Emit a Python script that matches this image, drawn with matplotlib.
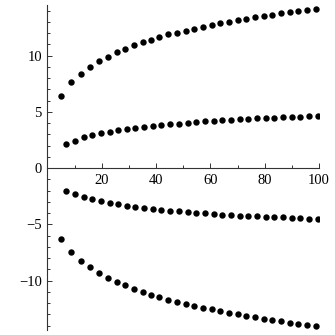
import numpy as np
import matplotlib
matplotlib.use("Agg")
import matplotlib.pyplot as plt
from matplotlib.ticker import MultipleLocator

# x positions of the dots (outer curves and inner curves)
x_outer = [5.12, 8.69, 12.26, 15.57, 18.89, 22.20, 25.52, 28.68, 31.88, 35.09,
           38.25, 41.27, 44.51, 47.72, 50.92, 54.09, 57.29, 60.49, 63.66, 66.86,
           70.07, 73.23, 76.44, 79.64, 82.81, 86.01, 89.21, 92.38, 95.58, 98.79]
x_inner = [6.74, 10.05, 13.37, 16.54, 19.73, 22.94, 26.10, 29.20, 32.36, 35.57,
           38.77, 41.94, 45.14, 48.35, 51.65, 54.82, 58.03, 61.23, 64.39, 67.60,
           70.80, 73.97, 77.17, 80.38, 83.54, 86.75, 89.95, 93.12, 96.32, 99.52]

y_top = [6.44, 7.64, 8.40, 8.97, 9.50, 9.91, 10.30, 10.60, 10.95, 11.22,
         11.42, 11.66, 11.90, 12.04, 12.22, 12.40, 12.55, 12.73, 12.88, 13.02,
         13.15, 13.26, 13.41, 13.56, 13.64, 13.77, 13.88, 13.97, 14.06, 14.18]
y_upper = [2.12, 2.44, 2.74, 2.95, 3.10, 3.24, 3.37, 3.48, 3.60, 3.69,
           3.78, 3.84, 3.92, 3.97, 4.02, 4.08, 4.17, 4.22, 4.28, 4.31,
           4.35, 4.38, 4.44, 4.46, 4.49, 4.52, 4.55, 4.58, 4.61, 4.65]
y_lower = [-2.00, -2.29, -2.53, -2.74, -2.92, -3.07, -3.21, -3.33, -3.42, -3.51,
           -3.60, -3.69, -3.78, -3.83, -3.92, -3.96, -4.01, -4.07, -4.13, -4.16,
           -4.22, -4.25, -4.28, -4.31, -4.34, -4.36, -4.43, -4.45, -4.49, -4.54]
y_bottom = [-6.32, -7.45, -8.22, -8.81, -9.34, -9.76, -10.12, -10.41, -10.74, -11.03,
            -11.24, -11.48, -11.69, -11.87, -12.04, -12.25, -12.40, -12.54, -12.69, -12.84,
            -12.99, -13.14, -13.26, -13.38, -13.49, -13.61, -13.73, -13.85, -13.94, -14.03]

plt.rcParams['font.family'] = ['Liberation Serif', 'DejaVu Serif']

fig = plt.figure(figsize=(3.35, 3.35), dpi=100)
ax = fig.add_axes([0.1415, 0.0149, 0.8107, 0.971])

for xs, ys in [(x_outer, y_top), (x_inner, y_upper), (x_inner, y_lower), (x_outer, y_bottom)]:
    ax.plot(xs, ys, 'o', color='black', ms=4.6, mew=0)

ax.set_xlim(0, 100)
ax.set_ylim(-14.38, 14.53)

ax.spines['left'].set_position(('data', 0))
ax.spines['bottom'].set_position(('data', 0))
ax.spines['top'].set_visible(False)
ax.spines['right'].set_visible(False)
for s in ['left', 'bottom']:
    ax.spines[s].set_linewidth(0.8)
    ax.spines[s].set_color('#333333')

ax.set_xticks([20, 40, 60, 80, 100])
ax.xaxis.set_minor_locator(MultipleLocator(10))
ax.set_yticks([-10, -5, 0, 5, 10])
ax.yaxis.set_minor_locator(MultipleLocator(1))
ax.set_yticklabels(['\u221210', '\u22125', '0', '5', '10'])

ax.tick_params(axis='both', which='both', direction='in', width=0.7,
               color='#333333', labelsize=10.5)
ax.tick_params(axis='both', which='major', length=3.5)
ax.tick_params(axis='both', which='minor', length=2.2)
ax.tick_params(axis='x', pad=4.5)
ax.tick_params(axis='y', pad=4)

fig.savefig('out.png', dpi=100)
